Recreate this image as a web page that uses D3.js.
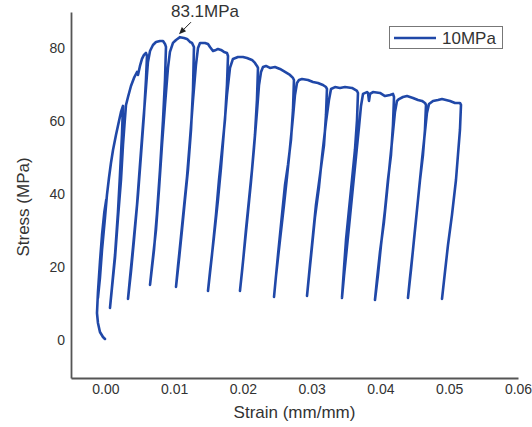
<!DOCTYPE html>
<html><head><meta charset="utf-8">
<script src="https://cdn.jsdelivr.net/npm/d3@7"></script>
<style>
body{margin:0;background:#fff;}
svg{display:block;font-family:"Liberation Sans",Arial,sans-serif;}
</style></head>
<body><svg id="c" width="532" height="427"></svg>
<script>
// Cyclic loading curve (strain in mm/mm, stress in MPa)
const strain = [
 -0.00006,-0.00035,-0.00079,-0.00108,-0.00122,-0.00108,-0.00079,-0.00049,-0.00015,0.00012,
 -0.00030,-0.00064,-0.00093,-0.00108,
 -0.00079,-0.00049,-0.00006,0.00023,0.00052,0.00081,0.00111,0.00154,0.00198,0.00227,0.00256,
 0.00241,0.00212,0.00183,0.00140,0.00096,0.00067,
 0.00096,0.00140,0.00183,0.00227,0.00256,0.00285,0.00300,
 0.00329,0.00372,0.00416,0.00460,0.00474,0.00503,0.00532,0.00561,0.00590,0.00605,
 0.00590,0.00561,0.00518,0.00474,0.00416,0.00372,0.00329,
 0.00358,0.00401,0.00460,0.00503,0.00547,0.00590,0.00619,0.00649,
 0.00692,0.00736,0.00794,0.00838,0.00867,0.00881,
 0.00867,0.00838,0.00794,0.00750,0.00707,0.00649,
 0.00678,0.00736,0.00779,0.00823,0.00867,0.00910,0.00939,0.00983,
 0.01027,0.01085,0.01143,0.01187,0.01230,0.01259,0.01288,
 0.01274,0.01245,0.01201,0.01157,0.01114,0.01070,0.01027,
 0.01056,0.01099,0.01143,0.01187,0.01230,0.01274,0.01317,0.01347,0.01376,
 0.01448,0.01492,0.01521,0.01565,0.01608,0.01637,0.01681,0.01725,0.01768,0.01783,
 0.01768,0.01739,0.01696,0.01652,0.01608,0.01550,0.01492,
 0.01521,0.01579,0.01637,0.01681,0.01725,0.01768,0.01812,0.01855,
 0.01928,0.02001,0.02059,0.02132,0.02175,0.02204,0.02219,
 0.02204,0.02175,0.02132,0.02088,0.02044,0.02001,0.01957,
 0.01986,0.02030,0.02074,0.02117,0.02161,0.02204,0.02234,0.02263,0.02292,
 0.02335,0.02393,0.02466,0.02539,0.02612,0.02684,0.02728,0.02742,
 0.02728,0.02699,0.02655,0.02612,0.02568,0.02510,0.02452,
 0.02481,0.02539,0.02597,0.02641,0.02684,0.02728,0.02757,0.02786,0.02815,
 0.02859,0.02946,0.03019,0.03091,0.03164,0.03208,0.03222,
 0.03208,0.03179,0.03121,0.03062,0.03019,0.02975,0.02932,
 0.02961,0.03004,0.03048,0.03106,0.03150,0.03208,0.03251,0.03281,0.03339,
 0.03411,0.03484,0.03586,0.03659,0.03673,
 0.03659,0.03629,0.03586,0.03542,0.03499,0.03470,0.03440,
 0.03470,0.03513,0.03557,0.03600,0.03644,0.03688,0.03717,0.03746,
 0.03804,0.03819,0.03833,0.03848,0.03891,0.03993,0.04066,0.04138,0.04182,0.04197,
 0.04182,0.04153,0.04109,0.04066,0.04008,0.03964,0.03920,
 0.03949,0.03993,0.04051,0.04095,0.04138,0.04182,0.04211,0.04240,0.04269,
 0.04327,0.04386,0.04473,0.04546,0.04604,0.04647,0.04662,
 0.04647,0.04618,0.04575,0.04531,0.04487,0.04444,0.04400,
 0.04429,0.04473,0.04517,0.04560,0.04604,0.04647,0.04676,0.04706,0.04764,
 0.04836,0.04895,0.04953,0.05011,0.05084,0.05156,0.05171,
 0.05156,0.05127,0.05098,0.05040,0.04982,0.04938,0.04895
];
const stress = [
 0.30,0.85,2.22,4.69,7.43,13.20,21.43,28.83,35.14,38.44,
 30.75,22.52,15.12,11.55,
 17.04,24.72,33.50,39.81,44.47,48.59,52.15,56.27,60.11,62.58,64.23,
 56.27,45.30,35.14,23.35,14.57,8.81,
 14.29,22.52,33.50,43.92,53.52,60.93,64.50,
 66.69,69.71,71.91,73.55,72.73,75.20,77.12,78.22,78.77,77.94,
 71.36,61.76,50.78,39.81,27.46,18.68,11.28,
 17.04,25.27,37.06,48.04,59.01,69.17,76.30,79.31,
 80.96,81.78,82.06,82.06,81.24,80.41,
 71.36,60.38,46.67,34.60,24.72,15.12,
 20.33,30.21,41.18,53.52,64.50,74.65,79.04,81.51,
 82.33,83.10,82.88,82.61,81.78,81.51,80.41,
 68.62,57.64,46.67,38.44,30.21,21.98,14.57,
 20.33,28.29,36.52,44.75,54.90,65.87,75.47,80.14,81.51,
 81.51,81.24,80.41,79.31,79.59,79.86,79.59,79.04,78.77,77.94,
 69.99,60.38,52.15,43.92,34.32,23.35,13.47,
 18.68,28.29,38.44,47.21,57.64,67.24,74.65,77.12,
 77.67,77.67,77.39,76.85,76.02,75.20,74.65,
 65.87,56.27,46.67,38.44,30.21,21.43,13.47,
 18.68,26.91,35.14,43.37,52.70,62.58,69.99,73.55,74.92,
 75.20,74.65,74.92,74.37,73.55,72.73,71.91,71.36,
 63.13,54.90,48.04,42.55,34.32,23.35,11.82,
 17.59,27.46,37.06,44.75,52.70,61.21,67.24,70.53,71.36,
 71.63,71.36,70.81,70.53,69.99,69.41,68.89,
 61.76,53.52,45.30,37.06,28.83,20.60,12.10,
 17.59,25.54,33.77,42.00,50.23,59.84,65.87,68.89,69.41,
 69.17,69.41,69.17,68.34,67.79,
 60.38,52.15,43.92,35.69,27.46,19.78,11.55,
 17.59,25.54,33.77,42.00,50.23,58.46,64.23,67.52,
 68.04,67.79,65.60,67.52,68.04,67.79,66.94,67.24,67.52,66.69,
 59.01,50.78,43.92,35.69,26.09,17.86,11.00,
 16.49,24.17,32.40,40.63,48.86,57.09,62.58,65.60,66.12,
 66.69,66.94,66.42,65.87,65.60,65.05,64.50,
 57.64,50.78,43.92,35.69,27.46,19.23,11.55,
 17.04,24.72,32.95,41.18,49.41,57.09,62.30,64.76,65.60,
 65.87,66.12,65.87,65.60,65.05,65.05,64.50,
 57.64,50.78,43.92,34.32,26.09,18.68,11.28
];
const xTicks = [0, 0.01, 0.02, 0.03, 0.04, 0.05, 0.06];
const yTicks = [0, 20, 40, 60, 80];
const seriesName = "10MPa";
const xLabel = "Strain (mm/mm)";
const yLabel = "Stress (MPa)";

const svg = d3.select("#c");
const x = d3.scaleLinear().domain([-0.005, 0.06]).range([71, 518]);
const y = d3.scaleLinear().domain([-10.4, 90]).range([378, 12]);
const blue = "#2048a8";
const axisCol = "#555";
const textCol = "#333";

// axes
const gx = svg.append("g").attr("transform", "translate(0,378)")
  .call(d3.axisBottom(x).tickValues(xTicks).tickFormat(d3.format(".2f")).tickSize(0).tickPadding(6));
const gy = svg.append("g").attr("transform", "translate(71,0)")
  .call(d3.axisLeft(y).tickValues(yTicks).tickSize(0).tickPadding(6));
[gx, gy].forEach(g => {
  g.select(".domain").attr("stroke", axisCol).attr("stroke-width", 1.8);
  g.selectAll("text").attr("fill", textCol).attr("font-size", 14)
    .attr("font-family", "Liberation Sans, Arial, sans-serif");
});

// axis titles
svg.append("text").attr("x", (x.range()[0] + x.range()[1]) / 2).attr("y", 418)
  .attr("text-anchor", "middle").attr("font-size", 17).attr("fill", textCol).text(xLabel);
svg.append("text").attr("transform", "translate(29,207) rotate(-90)")
  .attr("text-anchor", "middle").attr("font-size", 17).attr("fill", textCol).text(yLabel);

// curve
const pts = strain.map((s, i) => [s, stress[i]]);
svg.append("path").datum(pts)
  .attr("fill", "none").attr("stroke", blue).attr("stroke-width", 2.6)
  .attr("stroke-linejoin", "round").attr("stroke-linecap", "round")
  .attr("d", d3.line().x(d => x(d[0])).y(d => y(d[1])));

// peak annotation
const iMax = d3.maxIndex(stress);
const px = x(strain[iMax]), py = y(stress[iMax]);
const x0 = px + 11, y0 = py - 15, x1 = px - 1, y1 = py - 3;
svg.append("line").attr("x1", x0).attr("y1", y0).attr("x2", x1 + 3).attr("y2", y1 - 3)
  .attr("stroke", "#222").attr("stroke-width", 1);
const ang = Math.atan2(y1 - y0, x1 - x0);
const hl = 7, hw = 3;
const bx = x1 - hl * Math.cos(ang), by = y1 - hl * Math.sin(ang);
svg.append("path").attr("fill", "#222")
  .attr("d", `M${x1},${y1}L${bx + hw * Math.sin(ang)},${by - hw * Math.cos(ang)}L${bx - hw * Math.sin(ang)},${by + hw * Math.cos(ang)}Z`);
svg.append("text").attr("x", px + 25).attr("y", py - 20).attr("text-anchor", "middle")
  .attr("font-size", 17).attr("fill", textCol).text(d3.format(".1f")(stress[iMax]) + "MPa");

// legend
const lg = svg.append("g");
lg.append("rect").attr("x", 389.5).attr("y", 26.5).attr("width", 113).attr("height", 22)
  .attr("fill", "#fff").attr("stroke", "#777").attr("stroke-width", 1);
lg.append("line").attr("x1", 394).attr("x2", 436).attr("y1", 38).attr("y2", 38)
  .attr("stroke", blue).attr("stroke-width", 2.6);
lg.append("text").attr("x", 442).attr("y", 44).attr("font-size", 17).attr("fill", textCol).text(seriesName);
</script></body></html>
